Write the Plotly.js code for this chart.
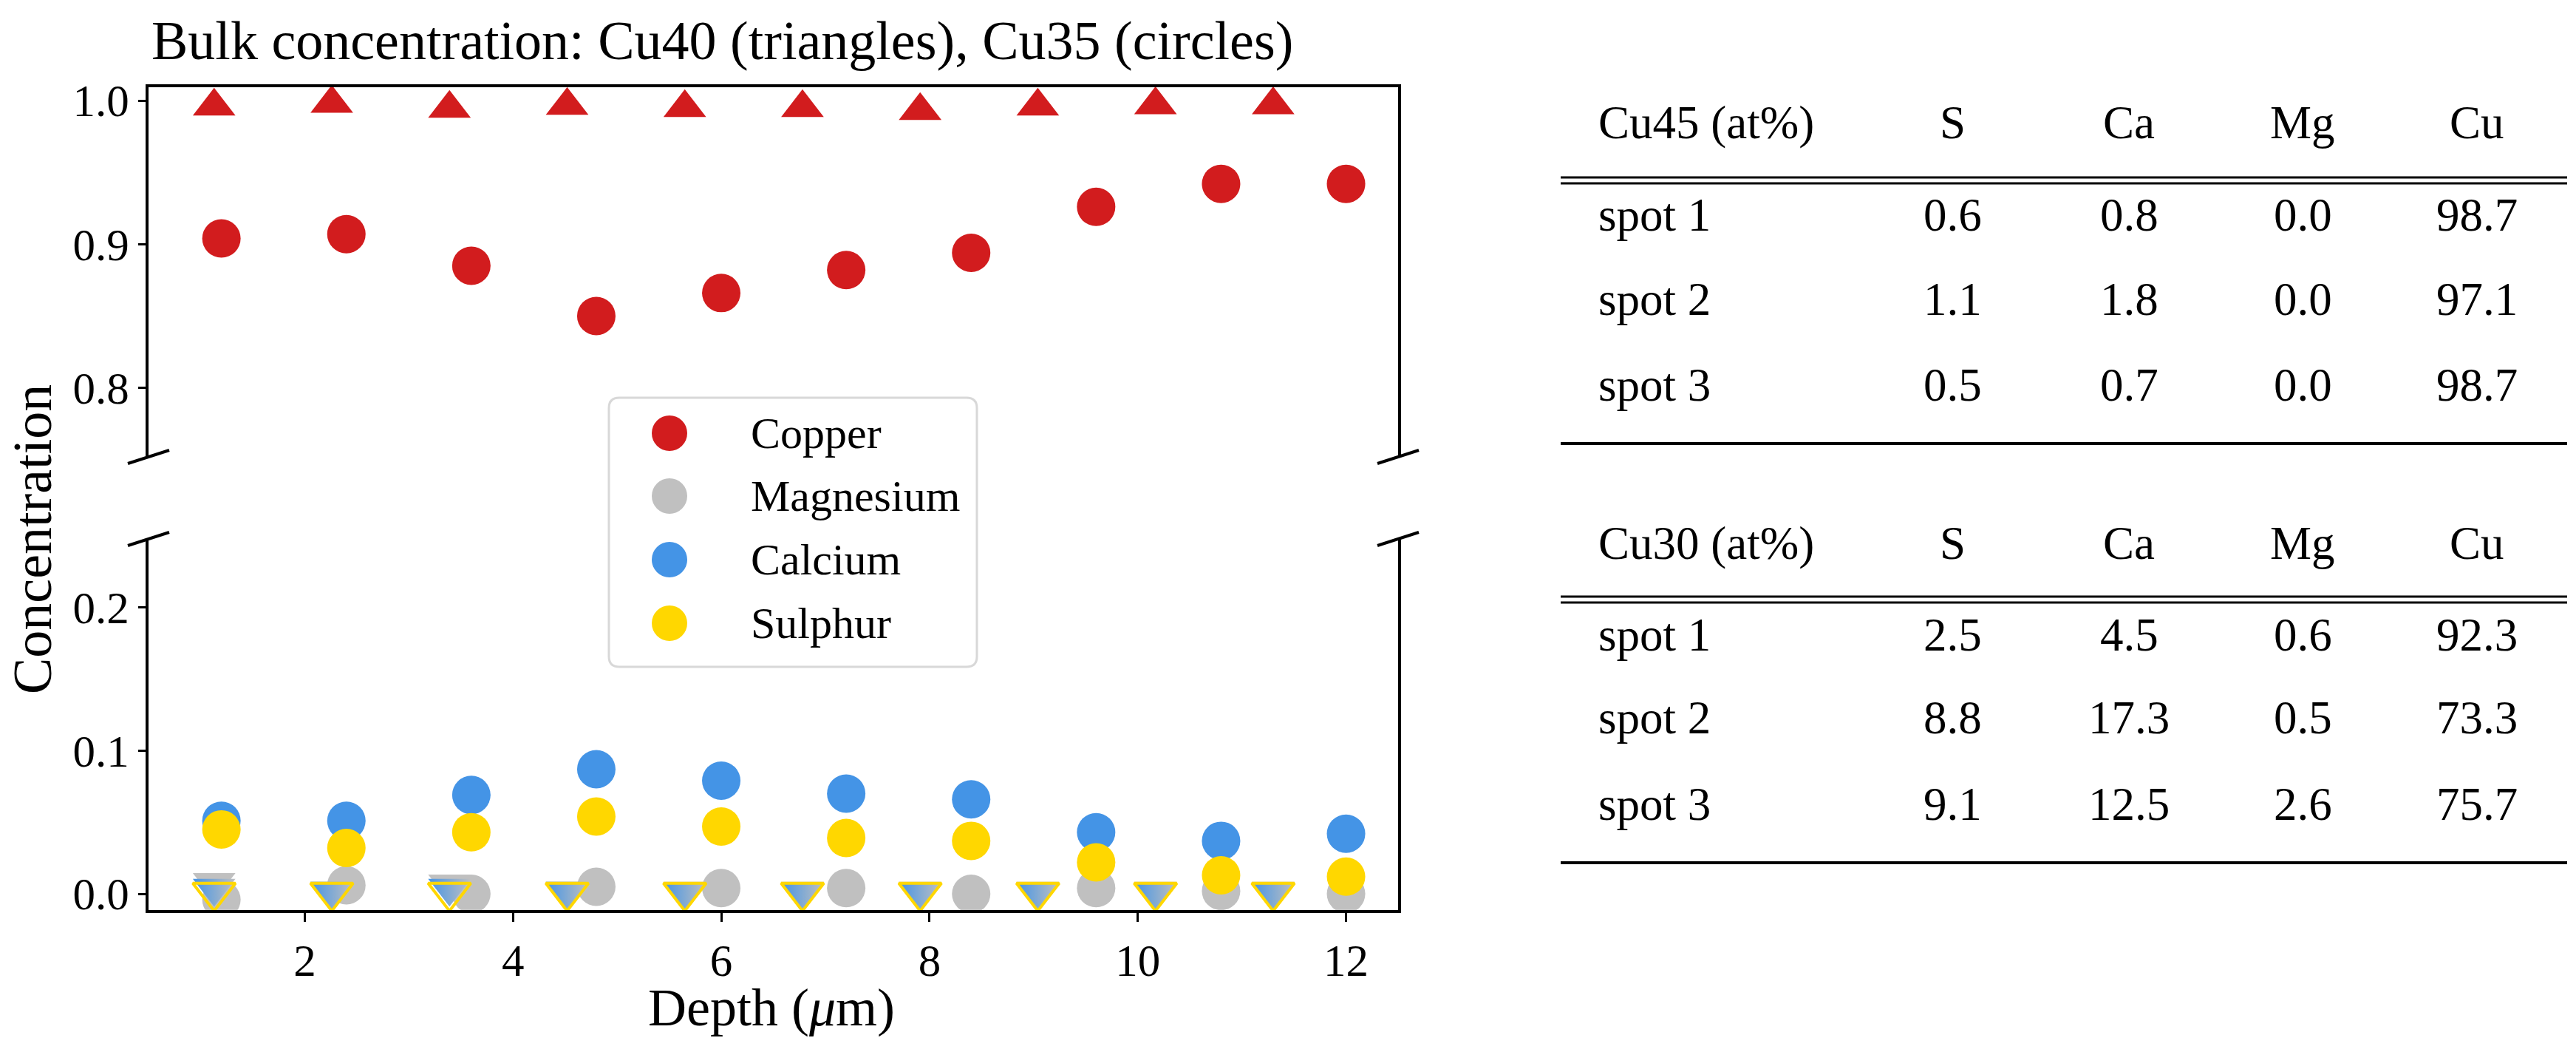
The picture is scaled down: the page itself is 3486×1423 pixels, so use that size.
<!DOCTYPE html>
<html>
<head>
<meta charset="utf-8">
<script src="https://cdn.plot.ly/plotly-3.0.1.min.js"></script>
<style>
  html, body { margin: 0; padding: 0; background: #fff; }
  #plot { width: 3486px; height: 1423px; }
</style>
</head>
<body>
<div id="plot"></div>
<script>
"use strict";

// ── Depth profiles (µm) ──
// Cu40 was measured on a slightly finer grid than Cu35.
const depthCu40 = [1.13, 2.26, 3.39, 4.52, 5.65, 6.78, 7.91, 9.04, 10.17, 11.30];
const depthCu35 = [1.2, 2.4, 3.6, 4.8, 6.0, 7.2, 8.4, 9.6, 10.8, 12.0];

// Cu40 (triangles)
const cu40Copper    = [0.996, 0.998, 0.9945, 0.9965, 0.995, 0.995, 0.993, 0.996, 0.997, 0.997];
const cu40Magnesium = [0.008, 0.002, 0.007, 0.002, 0.002, 0.002, 0.002, 0.002, 0.002, 0.002];
const cu40Calcium   = [0.004, 0.002, 0.004, 0.002, 0.001, 0.001, 0.001, 0.001, 0.001, 0.001];
const cu40Sulphur   = [0.001, 0.001, 0.001, 0.001, 0.001, 0.001, 0.001, 0.001, 0.001, 0.001];

// Cu35 (circles)
const cu35Copper    = [0.904, 0.907, 0.885, 0.850, 0.866, 0.882, 0.894, 0.926, 0.942, 0.942];
const cu35Magnesium = [-0.004, 0.006, 0.0, 0.005, 0.004, 0.004, 0.0, 0.004, 0.002, 0.0];
const cu35Calcium   = [0.051, 0.051, 0.069, 0.087, 0.079, 0.070, 0.066, 0.043, 0.037, 0.042];
const cu35Sulphur   = [0.045, 0.032, 0.043, 0.054, 0.047, 0.039, 0.037, 0.022, 0.013, 0.012];

const legendNames = ["Copper", "Magnesium", "Calcium", "Sulphur"];

// ── Spot analyses (at%) ──
const tableColumns = ["S", "Ca", "Mg", "Cu"];
const spotLabels   = ["spot 1", "spot 2", "spot 3"];
const cu45Rows = [[0.6, 0.8, 0.0, 98.7], [1.1, 1.8, 0.0, 97.1], [0.5, 0.7, 0.0, 98.7]];
const cu30Rows = [[2.5, 4.5, 0.6, 92.3], [8.8, 17.3, 0.5, 73.3], [9.1, 12.5, 2.6, 75.7]];

const W = 3486, H = 1423;
const FONT = "Liberation Serif, Times New Roman, serif";
const RED = "#D21C1E", GRAY = "#C0C0C0", BLUE = "#4494E6", GOLD = "#FFD700";
const COLORS = [RED, GRAY, BLUE, GOLD];

// pixel -> paper helpers (layout only)
const px = v => v / W;
const py = v => 1 - v / H;

const AX_L = 201, AX_R = 1892;
const UP_T = 118, UP_B = 618, LO_T = 729, LO_B = 1231;

const circle = (x, y, color, name, axes) => ({
    type: "scatter", mode: "markers", x, y, name,
    xaxis: axes[0], yaxis: axes[1], hoverinfo: "skip", showlegend: false,
    marker: { symbol: "circle", size: 52, color, line: { width: 0 } },
});

const traces = [
    // upper panel
    circle(depthCu35, cu35Copper, RED, "Copper", ["x2", "y2"]),
    { type: "scatter", mode: "markers", x: depthCu40, y: cu40Copper,
      xaxis: "x2", yaxis: "y2", showlegend: false, hoverinfo: "skip",
      marker: { symbol: "triangle-up", size: 50, color: RED, line: { width: 0 } } },
    // lower panel
    circle(depthCu35, cu35Magnesium, GRAY, "Magnesium", ["x", "y"]),
    circle(depthCu35, cu35Calcium, BLUE, "Calcium", ["x", "y"]),
    circle(depthCu35, cu35Sulphur, GOLD, "Sulphur", ["x", "y"]),
    { type: "scatter", mode: "markers", x: depthCu40, y: cu40Magnesium,
      xaxis: "x", yaxis: "y", showlegend: false, hoverinfo: "skip",
      marker: { symbol: "triangle-down", size: 50, color: GRAY, line: { width: 0 } } },
    { type: "scatter", mode: "markers", x: depthCu40, y: cu40Calcium,
      xaxis: "x", yaxis: "y", showlegend: false, hoverinfo: "skip",
      marker: { symbol: "triangle-down", size: 50, color: BLUE, line: { width: 0 },
                gradient: { type: "horizontal", color: GRAY } } },
    { type: "scatter", mode: "markers", x: depthCu40, y: cu40Sulphur,
      xaxis: "x", yaxis: "y", showlegend: false, hoverinfo: "skip",
      marker: { symbol: "triangle-down-open", size: 50, color: GOLD,
                line: { width: 4, color: GOLD } } },
];

const tickFont = { family: FONT, size: 61, color: "#000" };
const axisCommon = {
    showline: true, linewidth: 4, linecolor: "#000",
    ticks: "outside", tickwidth: 3, tickcolor: "#000",
    showgrid: false, zeroline: false, tickfont: tickFont, automargin: false,
};

const annotations = [];
const shapes = [];
const ann = (text, x, y, xanchor, size, extra) => annotations.push(Object.assign({
    text, x: px(x), y: py(y), xref: "paper", yref: "paper",
    xanchor, yanchor: "middle", showarrow: false,
    font: { family: FONT, size, color: "#000" },
}, extra || {}));

// titles
ann("Bulk concentration: Cu40 (triangles), Cu35 (circles)", 977, 55, "center", 74);
ann("Concentration", 44, 730, "center", 74, { textangle: -90 });
ann("Depth (<i>μ</i>m)", 1044, 1363, "center", 72);

// axis break marks
for (const xb of [AX_L, AX_R]) {
    for (const yb of [UP_B, LO_T]) {
        shapes.push({ type: "line", xref: "paper", yref: "paper",
            xsizemode: "pixel", ysizemode: "pixel",
            xanchor: px(xb), yanchor: py(yb),
            x0: -28, x1: 28, y0: -9, y1: 9,
            line: { color: "#000", width: 4 } });
    }
}

// legend box
{
    const L = px(824), R = px(1322), T = py(538), B = py(902);
    const rx = 14 / W, ry = 14 / H;
    shapes.push({ type: "path", xref: "paper", yref: "paper",
        path: `M${L + rx},${T} H${R - rx} Q${R},${T} ${R},${T - ry} V${B + ry} ` +
              `Q${R},${B} ${R - rx},${B} H${L + rx} Q${L},${B} ${L},${B + ry} ` +
              `V${T - ry} Q${L},${T} ${L + rx},${T} Z`,
        fillcolor: "rgba(255,255,255,0.95)", line: { color: "#D8D8D8", width: 3 } });
    const rowsY = [586, 671, 757, 843];
    legendNames.forEach((name, i) => {
        shapes.push({ type: "circle", xref: "paper", yref: "paper",
            xsizemode: "pixel", ysizemode: "pixel",
            xanchor: px(906), yanchor: py(rowsY[i]),
            x0: -24, x1: 24, y0: -24, y1: 24,
            fillcolor: COLORS[i], line: { width: 0 } });
        ann(name, 1014, rowsY[i], "left", 60);
    });
}

// booktabs-style tables
function drawTable(title, rows, g) {
    const colX = [2642, 2881, 3116, 3352];
    const TL = 2112, TR = 3474;
    ann(title, 2161, g.head, "left", 63);
    tableColumns.forEach((c, j) => ann(c, colX[j], g.head, "center", 63));
    const hline = (y, w) => shapes.push({ type: "line", xref: "paper", yref: "paper",
        x0: px(TL), x1: px(TR), y0: py(y), y1: py(y), line: { color: "#000", width: w } });
    hline(g.rule1, 3); hline(g.rule1 + 8, 3);
    rows.forEach((r, i) => {
        ann(spotLabels[i], 2161, g.rows[i], "left", 63);
        r.forEach((v, j) => ann(v.toFixed(1), colX[j], g.rows[i], "center", 63));
    });
    hline(g.bottom, 4);
}
drawTable("Cu45 (at%)", cu45Rows, { head: 166, rule1: 240, rows: [291, 405, 521], bottom: 600 });
drawTable("Cu30 (at%)", cu30Rows, { head: 735, rule1: 807, rows: [859, 971, 1088], bottom: 1167 });

const layout = {
    width: W, height: H,
    margin: { l: 0, r: 0, t: 0, b: 0, pad: 0 },
    paper_bgcolor: "#fff", plot_bgcolor: "rgba(0,0,0,0)",
    showlegend: false,
    xaxis: Object.assign({}, axisCommon, {
        domain: [px(AX_L), px(AX_R)], anchor: "y", range: [0.5, 12.5],
        tickvals: [2, 4, 6, 8, 10, 12], ticklen: 12, mirror: false,
    }),
    yaxis: Object.assign({}, axisCommon, {
        domain: [py(LO_B), py(LO_T)], anchor: "x", range: [-0.0113, 0.2477],
        tickvals: [0, 0.1, 0.2], ticktext: ["0.0", "0.1", "0.2"],
        ticklen: 10, mirror: true,
    }),
    xaxis2: Object.assign({}, axisCommon, {
        domain: [px(AX_L), px(AX_R)], anchor: "y2", matches: "x", side: "top",
        showticklabels: false, ticks: "", mirror: false,
    }),
    yaxis2: Object.assign({}, axisCommon, {
        domain: [py(UP_B), py(UP_T)], anchor: "x2", range: [0.7519, 1.0093],
        tickvals: [0.8, 0.9, 1.0], ticktext: ["0.8", "0.9", "1.0"],
        ticklen: 10, mirror: true,
    }),
    shapes, annotations,
};

Plotly.newPlot("plot", traces, layout, { displayModeBar: false, staticPlot: true });
</script>
</body>
</html>
